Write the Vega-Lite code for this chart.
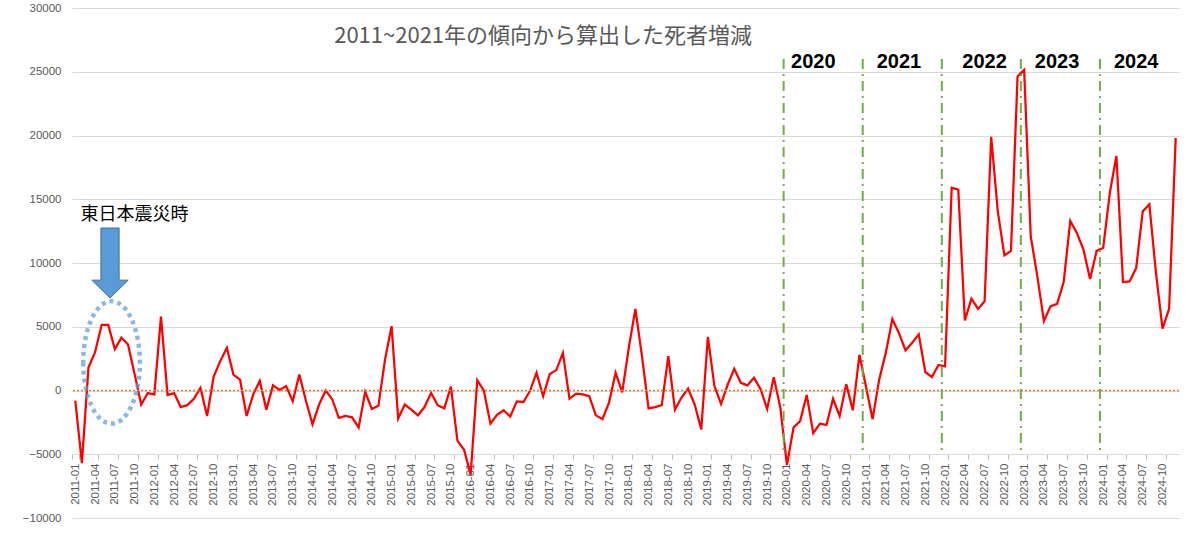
{
  "$schema": "https://vega.github.io/schema/vega-lite/v6.json",
  "description": "2011~2021年の傾向から算出した死者増減 (monthly, 2011-01 to 2024-12)",
  "width": 1107,
  "height": 510,
  "autosize": {"type": "none"},
  "padding": {"left": 72, "top": 8, "right": 21, "bottom": 15},
  "background": "white",
  "config": {"view": {"stroke": null}, "font": "Liberation Sans"},
  "datasets": {
    "deaths": [
      {"month": "2011-01", "value": -800}, {"month": "2011-02", "value": -5700}, {"month": "2011-03", "value": 1800}, {"month": "2011-04", "value": 3000},
      {"month": "2011-05", "value": 5150}, {"month": "2011-06", "value": 5150}, {"month": "2011-07", "value": 3250}, {"month": "2011-08", "value": 4150},
      {"month": "2011-09", "value": 3600}, {"month": "2011-10", "value": 1300}, {"month": "2011-11", "value": -1100}, {"month": "2011-12", "value": -200},
      {"month": "2012-01", "value": -300}, {"month": "2012-02", "value": 5800}, {"month": "2012-03", "value": -350}, {"month": "2012-04", "value": -200},
      {"month": "2012-05", "value": -1300}, {"month": "2012-06", "value": -1150}, {"month": "2012-07", "value": -650}, {"month": "2012-08", "value": 200},
      {"month": "2012-09", "value": -2000}, {"month": "2012-10", "value": 1100}, {"month": "2012-11", "value": 2300}, {"month": "2012-12", "value": 3350},
      {"month": "2013-01", "value": 1250}, {"month": "2013-02", "value": 850}, {"month": "2013-03", "value": -2000}, {"month": "2013-04", "value": -300},
      {"month": "2013-05", "value": 750}, {"month": "2013-06", "value": -1500}, {"month": "2013-07", "value": 400}, {"month": "2013-08", "value": 50},
      {"month": "2013-09", "value": 350}, {"month": "2013-10", "value": -850}, {"month": "2013-11", "value": 1250}, {"month": "2013-12", "value": -800},
      {"month": "2014-01", "value": -2650}, {"month": "2014-02", "value": -1100}, {"month": "2014-03", "value": 0}, {"month": "2014-04", "value": -700},
      {"month": "2014-05", "value": -2150}, {"month": "2014-06", "value": -2000}, {"month": "2014-07", "value": -2100}, {"month": "2014-08", "value": -2900},
      {"month": "2014-09", "value": -100}, {"month": "2014-10", "value": -1450}, {"month": "2014-11", "value": -1200}, {"month": "2014-12", "value": 2400},
      {"month": "2015-01", "value": 5050}, {"month": "2015-02", "value": -2200}, {"month": "2015-03", "value": -1100}, {"month": "2015-04", "value": -1500},
      {"month": "2015-05", "value": -1950}, {"month": "2015-06", "value": -1300}, {"month": "2015-07", "value": -200}, {"month": "2015-08", "value": -1150},
      {"month": "2015-09", "value": -1400}, {"month": "2015-10", "value": 300}, {"month": "2015-11", "value": -3950}, {"month": "2015-12", "value": -4650},
      {"month": "2016-01", "value": -6600}, {"month": "2016-02", "value": 800}, {"month": "2016-03", "value": 0}, {"month": "2016-04", "value": -2600},
      {"month": "2016-05", "value": -1900}, {"month": "2016-06", "value": -1550}, {"month": "2016-07", "value": -2050}, {"month": "2016-08", "value": -850},
      {"month": "2016-09", "value": -900}, {"month": "2016-10", "value": -50}, {"month": "2016-11", "value": 1400}, {"month": "2016-12", "value": -450},
      {"month": "2017-01", "value": 1300}, {"month": "2017-02", "value": 1600}, {"month": "2017-03", "value": 2950}, {"month": "2017-04", "value": -650},
      {"month": "2017-05", "value": -250}, {"month": "2017-06", "value": -300}, {"month": "2017-07", "value": -450}, {"month": "2017-08", "value": -1950},
      {"month": "2017-09", "value": -2250}, {"month": "2017-10", "value": -950}, {"month": "2017-11", "value": 1400}, {"month": "2017-12", "value": -150},
      {"month": "2018-01", "value": 3350}, {"month": "2018-02", "value": 6400}, {"month": "2018-03", "value": 2700}, {"month": "2018-04", "value": -1400},
      {"month": "2018-05", "value": -1300}, {"month": "2018-06", "value": -1150}, {"month": "2018-07", "value": 2700}, {"month": "2018-08", "value": -1500},
      {"month": "2018-09", "value": -550}, {"month": "2018-10", "value": 150}, {"month": "2018-11", "value": -1100}, {"month": "2018-12", "value": -3050},
      {"month": "2019-01", "value": 4200}, {"month": "2019-02", "value": 350}, {"month": "2019-03", "value": -1050}, {"month": "2019-04", "value": 450},
      {"month": "2019-05", "value": 1700}, {"month": "2019-06", "value": 600}, {"month": "2019-07", "value": 400}, {"month": "2019-08", "value": 1000},
      {"month": "2019-09", "value": 100}, {"month": "2019-10", "value": -1450}, {"month": "2019-11", "value": 1050}, {"month": "2019-12", "value": -1350},
      {"month": "2020-01", "value": -5850}, {"month": "2020-02", "value": -2900}, {"month": "2020-03", "value": -2400}, {"month": "2020-04", "value": -350},
      {"month": "2020-05", "value": -3350}, {"month": "2020-06", "value": -2600}, {"month": "2020-07", "value": -2700}, {"month": "2020-08", "value": -650},
      {"month": "2020-09", "value": -2000}, {"month": "2020-10", "value": 500}, {"month": "2020-11", "value": -1550}, {"month": "2020-12", "value": 2800},
      {"month": "2021-01", "value": 300}, {"month": "2021-02", "value": -2250}, {"month": "2021-03", "value": 850}, {"month": "2021-04", "value": 2950},
      {"month": "2021-05", "value": 5600}, {"month": "2021-06", "value": 4500}, {"month": "2021-07", "value": 3150}, {"month": "2021-08", "value": 3750},
      {"month": "2021-09", "value": 4400}, {"month": "2021-10", "value": 1450}, {"month": "2021-11", "value": 1050}, {"month": "2021-12", "value": 2000},
      {"month": "2022-01", "value": 1900}, {"month": "2022-02", "value": 15900}, {"month": "2022-03", "value": 15750}, {"month": "2022-04", "value": 5500},
      {"month": "2022-05", "value": 7200}, {"month": "2022-06", "value": 6400}, {"month": "2022-07", "value": 7000}, {"month": "2022-08", "value": 19900},
      {"month": "2022-09", "value": 14050}, {"month": "2022-10", "value": 10600}, {"month": "2022-11", "value": 10950}, {"month": "2022-12", "value": 24650},
      {"month": "2023-01", "value": 25150}, {"month": "2023-02", "value": 12100}, {"month": "2023-03", "value": 8950}, {"month": "2023-04", "value": 5450},
      {"month": "2023-05", "value": 6600}, {"month": "2023-06", "value": 6800}, {"month": "2023-07", "value": 8500}, {"month": "2023-08", "value": 13300},
      {"month": "2023-09", "value": 12350}, {"month": "2023-10", "value": 11050}, {"month": "2023-11", "value": 8750}, {"month": "2023-12", "value": 10950},
      {"month": "2024-01", "value": 11200}, {"month": "2024-02", "value": 15500}, {"month": "2024-03", "value": 18400}, {"month": "2024-04", "value": 8500},
      {"month": "2024-05", "value": 8550}, {"month": "2024-06", "value": 9600}, {"month": "2024-07", "value": 14050}, {"month": "2024-08", "value": 14600},
      {"month": "2024-09", "value": 9250}, {"month": "2024-10", "value": 4850}, {"month": "2024-11", "value": 6400}, {"month": "2024-12", "value": 19800}
    ],
    "years": [
      {"start": "2020-01", "labelAt": "2020-05", "label": "2020"},
      {"start": "2021-01", "labelAt": "2021-06", "label": "2021"},
      {"start": "2022-01", "labelAt": "2022-07", "label": "2022"},
      {"start": "2023-01", "labelAt": "2023-06", "label": "2023"},
      {"start": "2024-01", "labelAt": "2024-06", "label": "2024"}
    ]
  },
  "layer": [
    {
      "data": {"name": "deaths"},
      "mark": {"type": "line", "color": "#ff0000", "strokeWidth": 2.25},
      "encoding": {
        "x": {
          "field": "month",
          "type": "ordinal",
          "scale": {"type": "band", "paddingInner": 0, "paddingOuter": 0},
          "axis": {
            "title": null,
            "values": [
              "2011-01", "2011-04", "2011-07", "2011-10", "2012-01", "2012-04", "2012-07", "2012-10",
              "2013-01", "2013-04", "2013-07", "2013-10", "2014-01", "2014-04", "2014-07", "2014-10",
              "2015-01", "2015-04", "2015-07", "2015-10", "2016-01", "2016-04", "2016-07", "2016-10",
              "2017-01", "2017-04", "2017-07", "2017-10", "2018-01", "2018-04", "2018-07", "2018-10",
              "2019-01", "2019-04", "2019-07", "2019-10", "2020-01", "2020-04", "2020-07", "2020-10",
              "2021-01", "2021-04", "2021-07", "2021-10", "2022-01", "2022-04", "2022-07", "2022-10",
              "2023-01", "2023-04", "2023-07", "2023-10", "2024-01", "2024-04", "2024-07", "2024-10"
            ],
            "labelAngle": -90,
            "labelOverlap": false,
            "offset": -64,
            "tickBand": "extent",
            "domainColor": "#d9d9d9",
            "tickColor": "#bfbfbf",
            "tickSize": 5,
            "labelPadding": 4,
            "labelColor": "#595959",
            "labelFontSize": 11.5,
            "grid": false
          }
        },
        "y": {
          "field": "value",
          "type": "quantitative",
          "scale": {"domain": [-10000, 30000], "nice": false},
          "axis": {
            "title": null,
            "values": [-10000, -5000, 0, 5000, 10000, 15000, 20000, 25000, 30000],
            "format": "d",
            "domain": false,
            "ticks": false,
            "gridColor": "#d9d9d9",
            "labelColor": "#595959",
            "labelFontSize": 11.5,
            "labelPadding": 11
          }
        }
      }
    },
    {
      "data": {"values": [{}]},
      "mark": {"type": "rule", "color": "#ed7d31", "strokeWidth": 1.5, "strokeDash": [2, 2]},
      "encoding": {"y": {"datum": 0}}
    },
    {
      "data": {"name": "years"},
      "mark": {"type": "rule", "color": "#70ad47", "strokeWidth": 2, "strokeDash": [10, 5, 2, 5]},
      "encoding": {
        "x": {"field": "start", "type": "ordinal", "bandPosition": 0},
        "y": {"datum": 26000},
        "y2": {"datum": -5000}
      }
    },
    {
      "data": {"name": "years"},
      "mark": {"type": "text", "fontSize": 20, "fontWeight": "bold", "color": "#000000", "baseline": "middle", "align": "center"},
      "encoding": {
        "x": {"field": "labelAt", "type": "ordinal"},
        "y": {"datum": 25800},
        "text": {"field": "label"}
      }
    },
    {
      "data": {"values": [{}]},
      "mark": {"type": "text", "text": "2011~2021年の傾向から算出した死者増減", "font": "Noto Sans CJK JP", "fontSize": 22, "color": "#595959", "baseline": "middle", "align": "center"},
      "encoding": {"x": {"datum": "2016-12"}, "y": {"datum": 27840}}
    },
    {
      "data": {"values": [{}]},
      "mark": {"type": "text", "text": "東日本震災時", "font": "Noto Sans CJK JP", "fontSize": 18, "color": "#000000", "baseline": "middle", "align": "center"},
      "encoding": {"x": {"datum": "2011-10"}, "y": {"datum": 13800}}
    },
    {
      "data": {"values": [{}]},
      "mark": {
        "type": "point",
        "shape": "M -0.26 -1 L 0.26 -1 L 0.26 0.49 L 0.52 0.49 L 0 1 L -0.52 0.49 L -0.26 0.49 Z",
        "size": 4900,
        "filled": true,
        "fill": "#5b9bd5",
        "fillOpacity": 1,
        "stroke": "#41719c",
        "strokeWidth": 1
      },
      "encoding": {"x": {"datum": "2011-06", "bandPosition": 0.77}, "y": {"datum": 10000}}
    },
    {
      "data": {"values": [{}]},
      "mark": {
        "type": "point",
        "shape": "M -0.4626 0 A 0.4626 1 0 1 0 0.4626 0 A 0.4626 1 0 1 0 -0.4626 0 Z",
        "size": 15000,
        "filled": false,
        "stroke": "#5b9bd5",
        "strokeWidth": 4.5,
        "strokeOpacity": 1,
        "strokeDash": [4, 4]
      },
      "encoding": {"x": {"datum": "2011-07", "bandPosition": 0}, "y": {"datum": 2200}}
    }
  ]
}
